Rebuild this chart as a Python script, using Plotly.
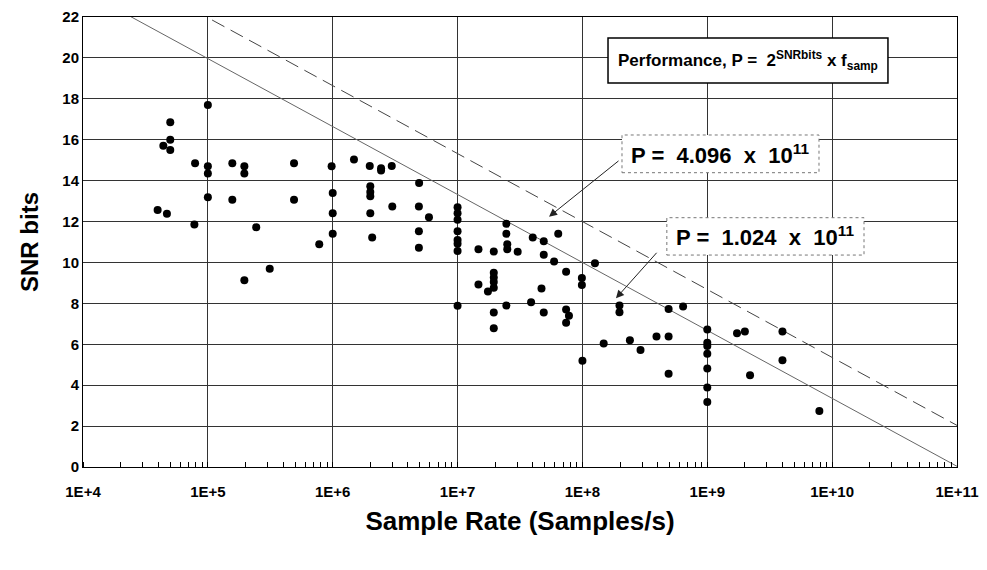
import numpy as np
import plotly.graph_objects as go

# ---- data ----
sample_rate = [
    1e5, 5e4, 5e4, 4.4e4, 5e4, 7.9e4, 1e5, 1e5, 1.57e5, 1.96e5, 1.96e5, 4.9e5, 9.8e5,
    1.48e6, 1.98e6, 2.44e6, 2.44e6, 2.97e6, 4.92e6, 1e5, 1.57e5, 4.9e5, 1e6, 2e6, 2e6,
    2e6, 3.96e4, 4.7e4, 1e6, 2e6, 3e6, 4.9e6, 5.9e6, 7.8e4, 2.44e5, 1e6, 2.07e6, 7.8e5,
    3.13e5, 1.96e5, 4.9e6, 4.9e6,
    1e7, 1e7, 1e7, 1e7, 1e7, 1e7, 1e7, 1e7,
    1.47e7, 1.95e7, 2.46e7, 2.46e7, 2.5e7, 2.5e7, 3.03e7, 4.0e7, 4.9e7, 6.4e7, 4.9e7,
    5.93e7, 7.4e7, 9.9e7, 9.9e7, 1.26e8, 1.95e7, 1.95e7, 1.95e7, 1.95e7, 1.75e7, 1.47e7,
    4.7e7, 3.88e7, 2.46e7, 1.95e7, 4.9e7, 7.4e7, 7.8e7, 7.4e7, 1.95e7, 1.98e8, 1.98e8,
    1.48e8, 2.4e8, 1e8, 2.92e8, 3.92e8, 4.9e8, 4.9e8, 4.9e8, 6.4e8,
    1e9, 1e9, 1e9, 1e9, 1e9, 1e9, 1e9,
    1.73e9, 2.0e9, 4.0e9, 4.0e9, 2.2e9, 7.9e9,
]
snr_bits = [
    17.7, 16.85, 16.0, 15.7, 15.5, 14.85, 14.7, 14.35, 14.85, 14.7, 14.35, 14.85, 14.7,
    15.03, 14.72, 14.6, 14.5, 14.72, 13.88, 13.19, 13.06, 13.06, 13.39, 13.72, 13.45,
    13.24, 12.57, 12.38, 12.4, 12.4, 12.73, 12.73, 12.21, 11.86, 11.72, 11.4, 11.22, 10.89,
    9.69, 9.13, 11.53, 10.72,
    12.7, 12.4, 12.09, 11.53, 11.1, 10.92, 10.56, 7.88,
    10.64, 10.53, 11.89, 11.4, 10.89, 10.65, 10.52, 11.22, 11.04, 11.4, 10.38,
    10.05, 9.54, 9.24, 8.9, 9.96, 9.5, 9.27, 9.04, 8.76, 8.58, 8.92,
    8.73, 8.05, 7.89, 7.55, 7.55, 7.7, 7.4, 7.05, 6.78, 7.89, 7.56,
    6.04, 6.2, 5.2, 5.72, 6.38, 6.38, 4.56, 7.72, 7.85,
    6.72, 6.08, 5.91, 5.54, 4.82, 3.89, 3.18,
    6.54, 6.62, 6.62, 5.22, 4.49, 2.74,
]
performance_levels = [4.096e11, 1.024e11]
tick_values = [1e4, 1e5, 1e6, 1e7, 1e8, 1e9, 1e10, 1e11]
tick_labels = ["1E+4", "1E+5", "1E+6", "1E+7", "1E+8", "1E+9", "1E+10", "1E+11"]
y_ticks = list(range(0, 23, 2))

FONT = "Liberation Sans, Arial, sans-serif"

fig = go.Figure()

# constant-performance lines: SNR = log2(P / f)
f_line = np.logspace(4, 11, 200)
line_styles = [dict(color="#444", width=1, dash="14px,7px"),
               dict(color="#666", width=1, dash="solid")]
for P, st in zip(performance_levels, line_styles):
    s = np.log2(P / f_line)
    fig.add_trace(go.Scatter(x=f_line, y=s, mode="lines", line=st,
                             hoverinfo="skip", showlegend=False))

fig.add_trace(go.Scatter(
    x=sample_rate, y=snr_bits, mode="markers",
    marker=dict(color="black", size=8, line=dict(width=0)),
    showlegend=False))

# boxes
fig.add_shape(type="rect", xref="paper", yref="paper",
              x0=0.6007, x1=0.921, y0=0.8533, y1=0.9533,
              line=dict(color="black", width=1.5), fillcolor="white", layer="above")
fig.add_shape(type="rect", xref="paper", yref="paper",
              x0=0.6167, x1=0.8421, y0=0.654, y1=0.7378,
              line=dict(color="#777", width=1, dash="dot"), fillcolor="white", layer="above")
fig.add_shape(type="rect", xref="paper", yref="paper",
              x0=0.668, x1=0.8936, y0=0.471, y1=0.554,
              line=dict(color="#777", width=1, dash="dot"), fillcolor="white", layer="above")

fig.add_annotation(xref="paper", yref="paper", x=0.761, y=0.903, showarrow=False,
                   xanchor="center", yanchor="middle",
                   text="Performance, P =&nbsp; 2<sup>SNRbits</sup> x f<sub>samp</sub>",
                   font=dict(family=FONT, size=17, color="black", weight="bold"))
fig.add_annotation(xref="paper", yref="paper", x=0.7294, y=0.696, showarrow=False,
                   xanchor="center", yanchor="middle",
                   text="P =&nbsp;&nbsp;4.096&nbsp; x&nbsp; 10<sup>11</sup>",
                   font=dict(family=FONT, size=22, color="black", weight="bold"))
fig.add_annotation(xref="paper", yref="paper", x=0.7808, y=0.5125, showarrow=False,
                   xanchor="center", yanchor="middle",
                   text="P =&nbsp;&nbsp;1.024&nbsp; x&nbsp; 10<sup>11</sup>",
                   font=dict(family=FONT, size=22, color="black", weight="bold"))

# arrows
fig.add_annotation(xref="paper", yref="paper", x=0.5332, y=0.5562, ax=71, ay=-57,
                   text="", showarrow=True, arrowhead=2, arrowsize=1.6,
                   arrowwidth=1, arrowcolor="#222")
fig.add_annotation(xref="paper", yref="paper", x=0.6098, y=0.3749, ax=42, ay=-47,
                   text="", showarrow=True, arrowhead=2, arrowsize=1.6,
                   arrowwidth=1, arrowcolor="#222")

fig.update_layout(
    width=979, height=562,
    margin=dict(l=75, r=30, t=9, b=103),
    paper_bgcolor="white", plot_bgcolor="white",
    font=dict(family=FONT, color="black"),
    xaxis=dict(
        type="log", range=[4, 11], automargin=False,
        tickvals=tick_values, ticktext=tick_labels,
        tickfont=dict(family=FONT, size=15, weight="bold"),
        showgrid=True, gridcolor="#333", gridwidth=1,
        showline=True, linecolor="black", linewidth=1, mirror=True,
        ticks="outside", ticklen=11, tickcolor="white", zeroline=False,
        minor=dict(ticks="inside", ticklen=5, tickcolor="black", dtick="D1", showgrid=False),
        title=dict(text="Sample Rate (Samples/s)",
                   font=dict(family=FONT, size=26, weight="bold"), standoff=12),
    ),
    yaxis=dict(
        range=[0, 22], tickvals=y_ticks, automargin=False,
        tickfont=dict(family=FONT, size=15, weight="bold"),
        showgrid=True, gridcolor="#333", gridwidth=1,
        showline=True, linecolor="black", linewidth=1, mirror=True,
        ticks="", zeroline=False,
        title=dict(text="SNR bits", font=dict(family=FONT, size=24, weight="bold"),
                   standoff=16),
    ),
)

fig.write_html("out.html")
